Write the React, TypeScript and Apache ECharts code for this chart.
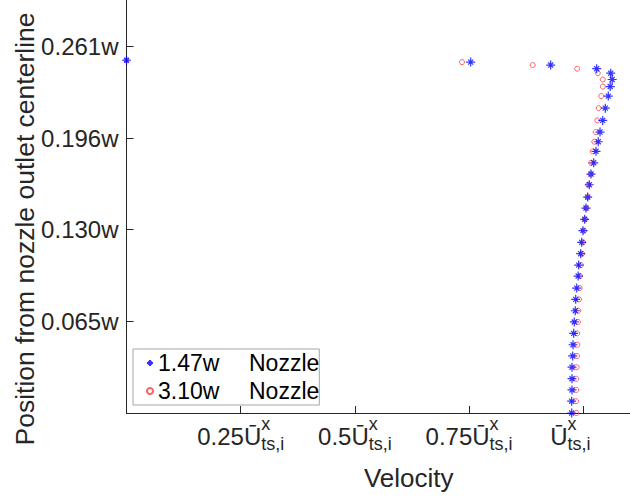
import React, { useEffect, useRef } from 'react';
import * as echarts from 'echarts';

// Position from nozzle outlet centerline (in units of w)
const positions = [
  0.2511, 0.2498, 0.2477, 0.2451, 0.2419, 0.2374, 0.2324, 0.2256, 0.217, 0.2083,
  0.2, 0.1931, 0.1863, 0.1781, 0.1701, 0.1625, 0.1537, 0.1459, 0.1379, 0.1298,
  0.1215, 0.1134, 0.1053, 0.0975, 0.0889, 0.0809, 0.0728, 0.0648, 0.0567, 0.0486,
  0.0406, 0.0326, 0.0244, 0.0164, 0.0084, 0,
];
// Velocity (in units of U_ts,i) for the 1.47w nozzle
const velocity147 = [
  0, 0.7535, 0.9286, 1.0293, 1.06, 1.0633, 1.0589, 1.0547, 1.0482, 1.0425,
  1.0366, 1.0328, 1.0278, 1.0228, 1.0169, 1.0131, 1.0096, 1.0059, 1.0031, 0.9993,
  0.9965, 0.9943, 0.9899, 0.9888, 0.9856, 0.9834, 0.9825, 0.9803, 0.979, 0.9775,
  0.9768, 0.9753, 0.9753, 0.9753, 0.9746, 0.9746,
];
// Velocity for the 3.10w nozzle
const velocity310 = [
  0, 0.7345, 0.8892, 0.9866, 1.0317, 1.0427, 1.0427, 1.0392, 1.0337, 1.0306,
  1.0271, 1.0241, 1.0208, 1.0169, 1.0162, 1.0109, 1.0096, 1.0066, 1.0037, 1.0015,
  0.9993, 0.9972, 0.995, 0.9932, 0.9921, 0.9906, 0.9891, 0.9884, 0.9869, 0.9869,
  0.9862, 0.9856, 0.9847, 0.9847, 0.984, 0.9847,
];

const seriesNames = ['1.47w', '3.10w'];
const legendSuffix = 'Nozzle';
const xTickValues = [0.25, 0.5, 0.75, 1];
const xTickCoefs = ['0.25', '0.5', '0.75', ''];
const yTickValues = [0.06525, 0.1305, 0.19575, 0.261];
const yTickLabels = ['0.065w', '0.130w', '0.196w', '0.261w'];

const FONT = '"Liberation Sans", Arial, Helvetica, sans-serif';
const AXIS_COLOR = '#262626';
const ASTERISK = 'path://M5 0V10M0 5H10M2.2 2.2L7.8 7.8M2.2 7.8L7.8 2.2';

export default function App() {
  const ref = useRef<HTMLDivElement>(null);

  useEffect(() => {
    if (!ref.current) return;
    const chart = echarts.init(ref.current, null, { renderer: 'svg' });

    const blueData = positions.map((p, i) => [velocity147[i], p]);
    const redData = positions.map((p, i) => [velocity310[i], p]);

    const option: any = {
      animation: false,
      backgroundColor: '#ffffff',
      textStyle: { fontFamily: FONT },
      grid: { left: 126.5, top: 0, right: -61, bottom: 85, containLabel: false, outerBoundsMode: 'none' },
      xAxis: {
        type: 'value',
        min: 0,
        max: 1.2358,
        name: 'Velocity',
        nameLocation: 'middle',
        nameGap: 52,
        nameMoveOverlap: false,
        nameTextStyle: { fontSize: 26, color: AXIS_COLOR, fontFamily: FONT },
        axisLine: { show: true, lineStyle: { color: AXIS_COLOR, width: 1 } },
        axisTick: { show: true, inside: true, length: 7, lineStyle: { color: AXIS_COLOR }, customValues: xTickValues },
        splitLine: { show: false },
        axisLabel: {
          customValues: xTickValues,
          margin: 11,
          color: AXIS_COLOR,
          formatter: (v: number) => {
            const i = xTickValues.findIndex((t) => Math.abs(t - v) < 1e-6);
            const c = xTickCoefs[i] ?? '';
            const subStyle = i === xTickValues.length - 1 ? 'se' : 's';
            return `{m|${c}Ū}{x|x}{${subStyle}|ts,i}`;
          },
          rich: {
            m: { fontSize: 24, lineHeight: 24, align: 'left', color: AXIS_COLOR, fontFamily: FONT },
            x: { fontSize: 18, lineHeight: 24, align: 'left', width: 0, padding: [0, 0, 25, 0], color: AXIS_COLOR, fontFamily: FONT },
            s: { fontSize: 18, lineHeight: 24, align: 'left', padding: [16, 0, 0, 0], color: AXIS_COLOR, fontFamily: FONT },
            se: { fontSize: 18, lineHeight: 24, align: 'left', padding: [16, 26, 0, 0], color: AXIS_COLOR, fontFamily: FONT },
          },
        },
      },
      yAxis: {
        type: 'value',
        min: 0,
        max: 0.294,
        name: 'Position from nozzle outlet centerline',
        nameLocation: 'middle',
        nameGap: 88,
        nameMoveOverlap: false,
        nameTextStyle: { fontSize: 26.5, color: AXIS_COLOR, fontFamily: FONT, padding: [0, 45, 0, 0] },
        axisLine: { show: true, lineStyle: { color: AXIS_COLOR, width: 1 } },
        axisTick: { show: true, inside: true, length: 7, lineStyle: { color: AXIS_COLOR }, customValues: yTickValues },
        splitLine: { show: false },
        axisLabel: {
          customValues: yTickValues,
          margin: 8,
          fontSize: 24,
          color: AXIS_COLOR,
          fontFamily: FONT,
          formatter: (v: number) => {
            const i = yTickValues.findIndex((t) => Math.abs(t - v) < 1e-6);
            return yTickLabels[i] ?? '';
          },
        },
      },
      legend: {
        orient: 'vertical',
        left: 133,
        top: 349,
        padding: [2, 0, 2, 13],
        itemWidth: 6,
        itemHeight: 6,
        itemGap: 4,
        backgroundColor: '#ffffff',
        borderColor: '#a6a6a6',
        borderWidth: 1,
        data: [seriesNames[0], seriesNames[1]],
        formatter: (name: string) => `{n|${name}}{t|${legendSuffix}}`,
        textStyle: {
          fontSize: 23,
          lineHeight: 24,
          color: '#000000',
          fontFamily: FONT,
          rich: {
            n: { fontSize: 23, lineHeight: 24, width: 91, align: 'left', color: '#000', fontFamily: FONT },
            t: { fontSize: 23, lineHeight: 24, align: 'left', color: '#000', fontFamily: FONT },
          },
        },
      },
      series: [
        {
          name: seriesNames[1],
          type: 'scatter',
          data: redData,
          symbol: 'circle',
          symbolSize: 5,
          itemStyle: { color: 'rgba(255,255,255,0)', borderColor: '#ff3b3b', borderWidth: 1 },
          z: 2,
        },
        {
          name: seriesNames[0],
          type: 'scatter',
          data: blueData,
          symbol: ASTERISK,
          symbolSize: 9,
          itemStyle: { color: 'rgba(255,255,255,0)', borderColor: '#0000ff', borderWidth: 1.2 },
          z: 3,
        },
      ],
    };

    chart.setOption(option);
    return () => chart.dispose();
  }, []);

  return <div ref={ref} style={{ width: 630, height: 498, position: 'absolute', left: 0, top: 0 }} />;
}
